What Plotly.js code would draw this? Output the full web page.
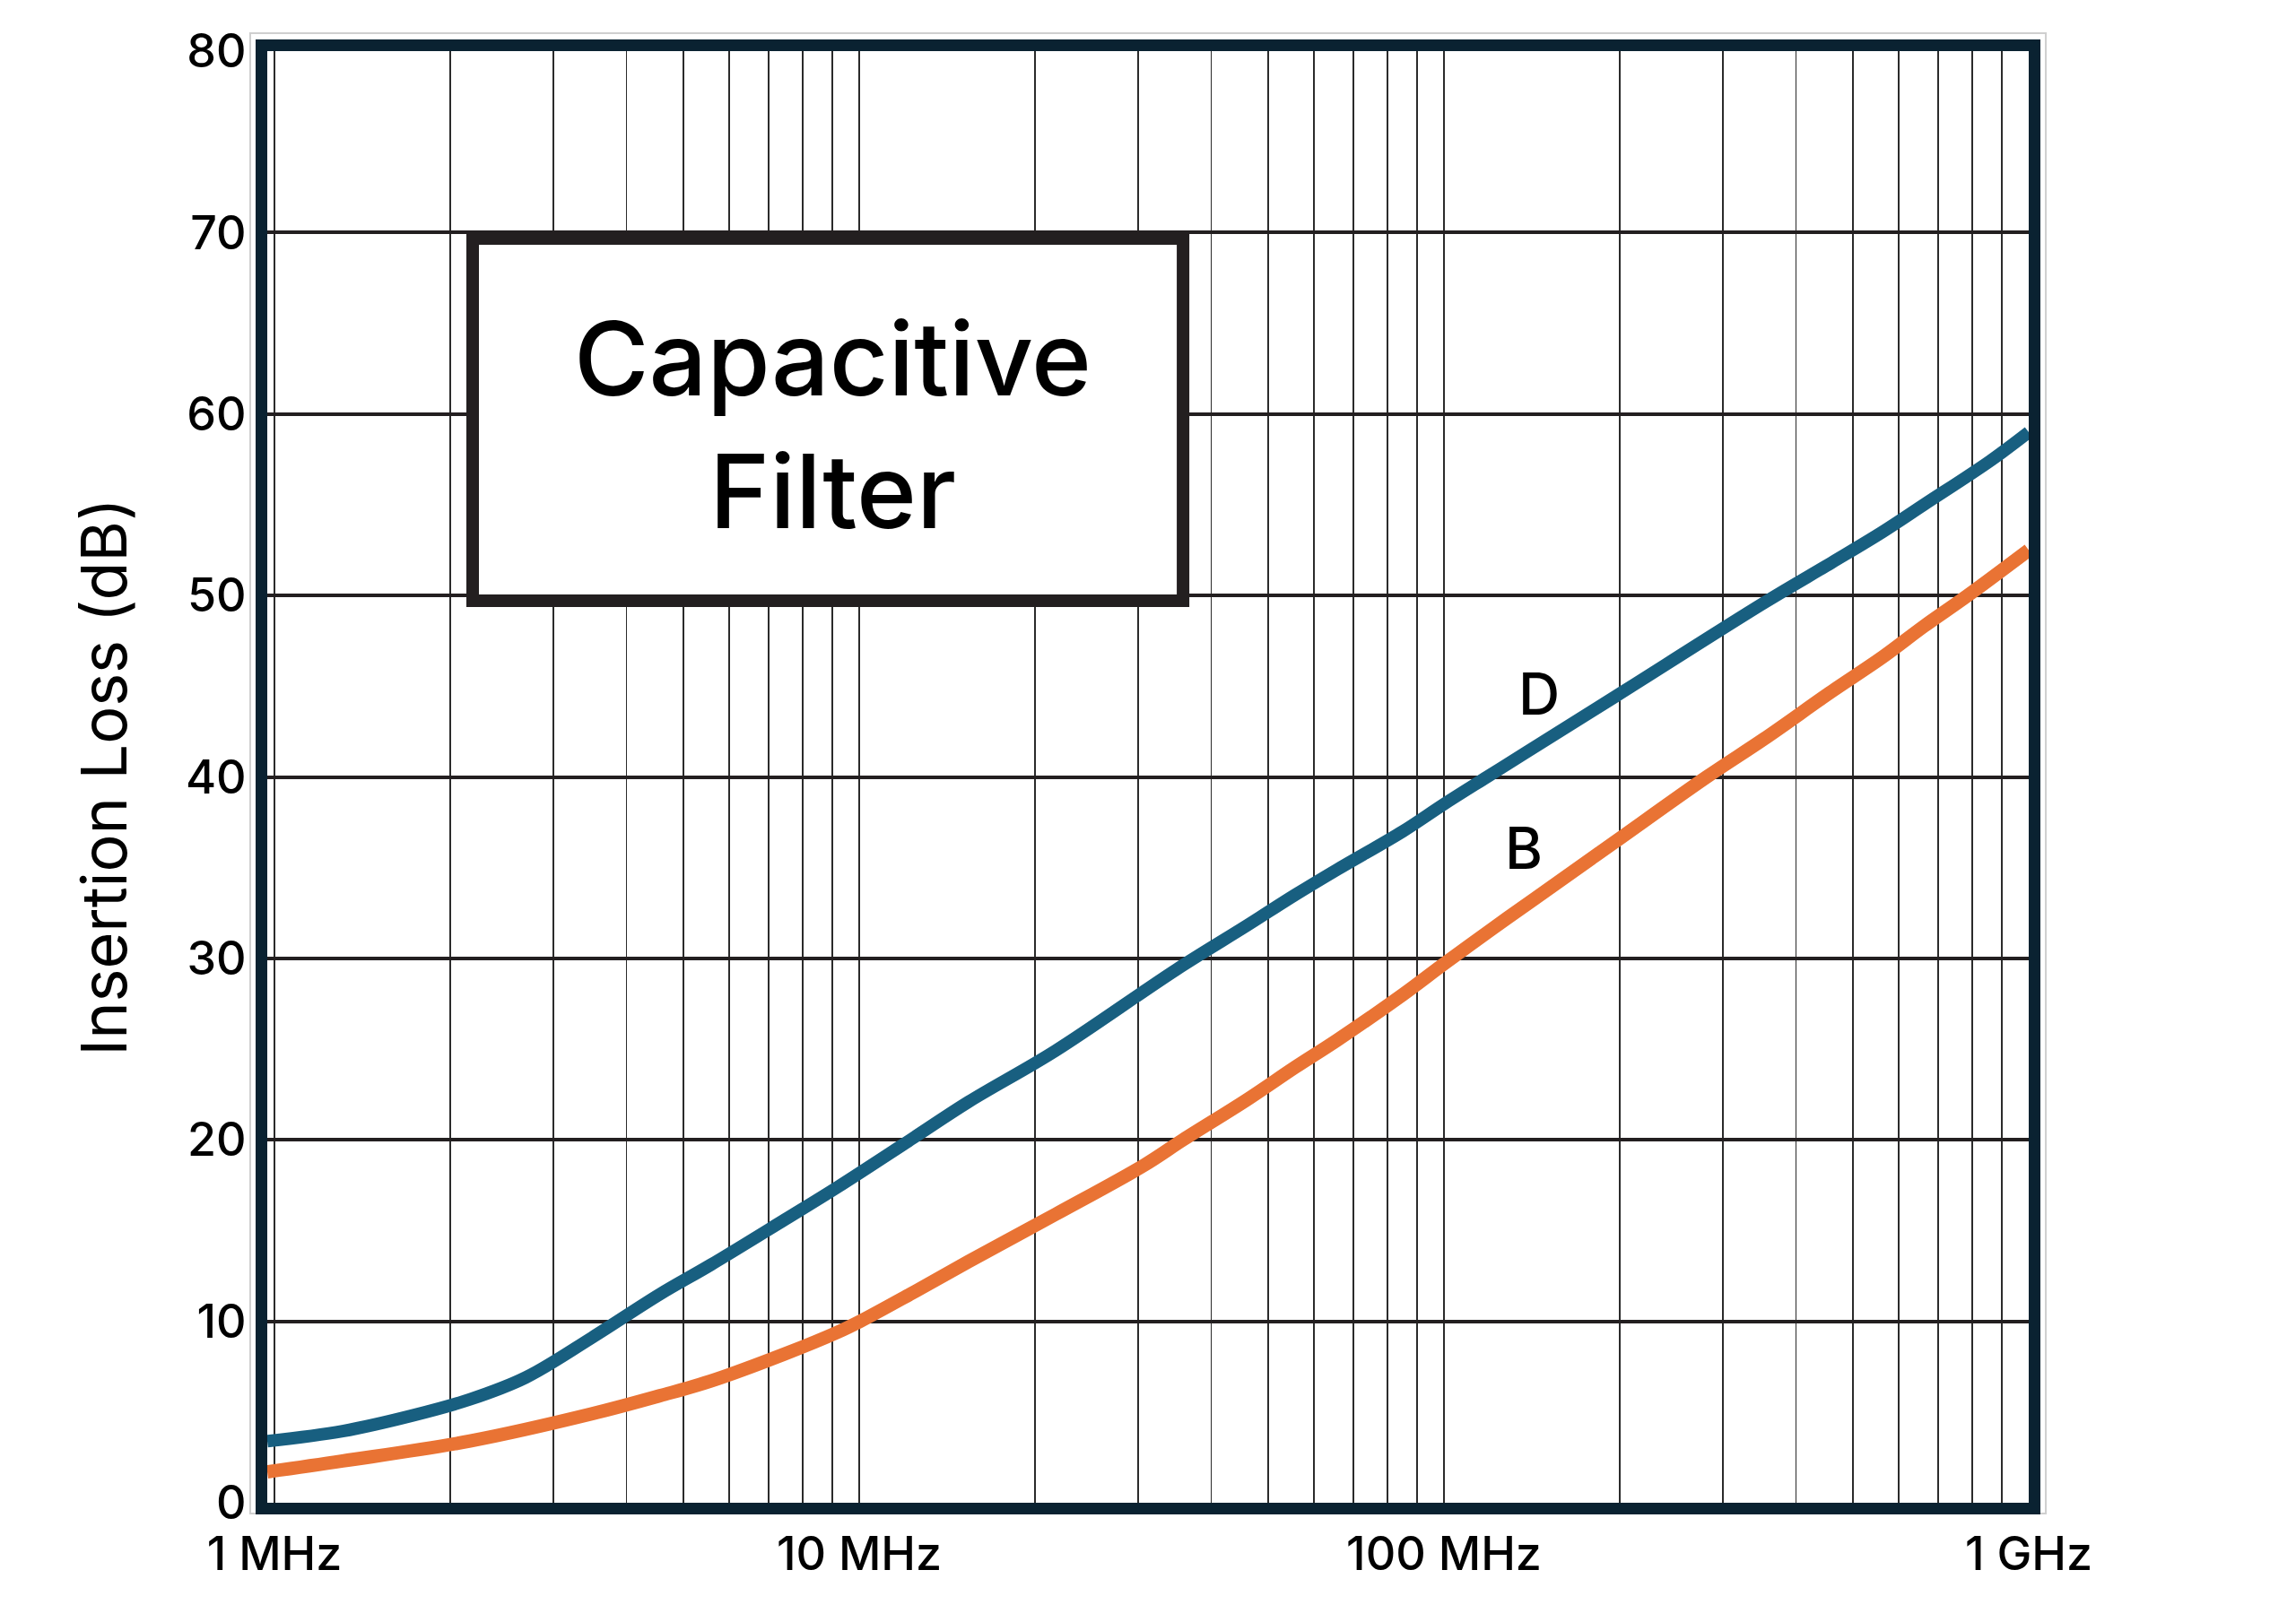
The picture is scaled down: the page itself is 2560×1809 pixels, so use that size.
<!DOCTYPE html>
<html>
<head>
<meta charset="utf-8">
<script src="https://cdn.plot.ly/plotly-3.0.1.min.js"></script>
<style>
  html, body { margin: 0; padding: 0; background: #fff; }
  #chart { width: 2560px; height: 1809px; }
</style>
</head>
<body>
<div id="chart"></div>
<script>
// frequency in Hz, insertion loss in dB
const freqD = [9.72e5, 1.308e6, 1.717e6, 2.16e6, 2.688e6, 3.491e6, 4.566e6, 5.565e6, 7.459e6, 9.188e6,
  1.223e7, 1.539e7, 2.163e7, 3.491e7, 4.598e7, 5.565e7, 6.569e7, 8.501e7, 1.0e8, 1.185e8,
  1.374e8, 1.956e8, 3.528e8, 4.598e8, 5.623e8, 6.617e8, 8.578e8, 1.0e9]
const lossD = [3.4, 3.95, 4.8, 5.7, 6.9, 9.1, 11.5, 13.1, 15.6, 17.4,
  20.0, 22.1, 24.9, 29.4, 31.8, 33.5, 34.9, 37.0, 38.5, 40.0,
  41.3, 44.4, 49.6, 51.8, 53.5, 55.0, 57.4, 59.0]

const freqB = [9.72e5, 1.308e6, 2.16e6, 3.491e6, 4.566e6, 5.565e6, 7.459e6, 9.188e6, 1.004e7, 1.223e7,
  1.539e7, 2.167e7, 3.069e7, 3.578e7, 4.598e7, 5.565e7, 6.569e7, 8.501e7, 1.0e8, 1.206e8,
  1.431e8, 1.956e8, 2.814e8, 3.528e8, 4.598e8, 5.623e8, 6.617e8, 7.864e8, 1.0e9]
const lossB = [1.7, 2.3, 3.4, 4.9, 5.9, 6.7, 8.2, 9.4, 10.0, 11.5,
  13.3, 15.9, 18.6, 20.0, 22.2, 24.0, 25.5, 28.0, 29.7, 31.6,
  33.3, 36.4, 40.0, 42.1, 44.7, 46.6, 48.3, 50.0, 52.5]

const decadeVals = [1e6, 1e7, 1e8, 1e9]
const decadeLabels = ['1 MHz', '10 MHz', '100 MHz', '1 GHz']

// curve labels: [text, frequency, dB]
const curveLabels = [['D', 1.454e8, 44.6], ['B', 1.369e8, 36.1]]
const boxText = ['Capacitive', 'Filter']

// grid on every 1..9 step of each decade, labels only on decades
const tickvals = []
const ticktext = []
for (const [i, d] of decadeVals.entries()) {
	const steps = i < decadeVals.length - 1 ? 9 : 1
	for (let k = 1; k <= steps; k++) {
		tickvals.push(d * k)
		ticktext.push(k === 1 ? decadeLabels[i] : '')
	}
}

const BLUE = '#185f80'
const ORANGE = '#e97334'
const NAVY = '#0a2231'
const INK = '#231f20'
const SANS = 'Inter, Roboto, Liberation Sans, sans-serif'

const traces = [
	{ x: freqB, y: lossB, type: 'scatter', mode: 'lines', name: 'B',
	  line: { color: ORANGE, width: 15, shape: 'spline', smoothing: 1 } },
	{ x: freqD, y: lossD, type: 'scatter', mode: 'lines', name: 'D',
	  line: { color: BLUE, width: 14, shape: 'spline', smoothing: 1 } },
]

const layout = {
	width: 2560,
	height: 1809,
	margin: { l: 298, r: 298, t: 57, b: 133, pad: 0 },
	paper_bgcolor: '#fff',
	plot_bgcolor: '#fff',
	showlegend: false,
	font: { family: SANS, color: '#000' },
	xaxis: {
		type: 'log',
		range: [Math.log10(freqD[0]), 9],
		tickmode: 'array',
		tickvals: tickvals,
		ticktext: ticktext,
		ticks: '',
		tickfont: { size: 52, weight: 500 },
		showgrid: true,
		gridcolor: '#2b2b2b',
		gridwidth: 1.8,
		zeroline: false,
		showline: true,
		linecolor: NAVY,
		linewidth: 13,
		mirror: true,
	},
	yaxis: {
		range: [0, 80],
		tick0: 0,
		dtick: 10,
		ticks: '',
		tickfont: { size: 52, weight: 500 },
		showgrid: true,
		gridcolor: INK,
		gridwidth: 4,
		zeroline: false,
		showline: true,
		linecolor: NAVY,
		linewidth: 13,
		mirror: true,
		title: { text: 'Insertion Loss (dB)', font: { size: 70 }, standoff: 48 },
	},
	shapes: [
		{ type: 'rect', xref: 'paper', yref: 'paper', x0: -0.0097, x1: 1.0097, y0: -0.0074, y1: 1.0124,
		  line: { color: '#cfcfcf', width: 2 }, layer: 'below' },
		{ type: 'rect', xref: 'paper', yref: 'paper', x0: 0.1166, x1: 0.5199, y0: 0.6214, y1: 0.8709,
		  fillcolor: '#fff', line: { color: INK, width: 14 }, layer: 'above' },
	],
	annotations: [
		{ xref: 'paper', yref: 'paper', x: 0.3208, y: 0.743, xanchor: 'center', yanchor: 'middle',
		  text: boxText.join('<br>'), showarrow: false,
		  font: { family: SANS, size: 114, weight: 500, color: '#000' } },
		...curveLabels.map(([t, f, db]) => ({
			xref: 'x', yref: 'y', x: Math.log10(f), y: db, text: t, showarrow: false,
			xanchor: 'center', yanchor: 'middle',
			font: { family: SANS, size: 64, weight: 500, color: '#000' },
		})),
	],
}

Plotly.newPlot('chart', traces, layout, { displayModeBar: false, staticPlot: true })
</script>
</body>
</html>
